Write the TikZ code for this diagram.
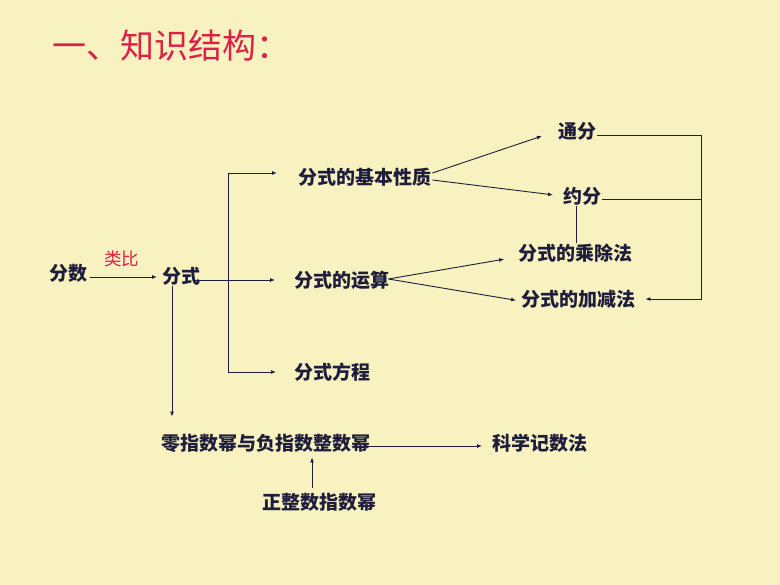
\documentclass[tikz,border=0pt]{standalone}
\usepackage{fontspec}
\newfontfamily\cjk{Noto Sans CJK SC}
\usetikzlibrary{arrows.meta,calc}
\definecolor{bg}{RGB}{248,241,192}
\definecolor{ink}{RGB}{30,30,60}
\definecolor{tred}{RGB}{222,32,72}
\begin{document}
\begin{tikzpicture}[x=1pt,y=-1pt,
  lbl/.style={font=\cjk\bfseries\fontsize{19}{19}\selectfont, text=ink, inner sep=1pt, anchor=west},
  arr/.style={draw=ink, line width=0.9pt, -{Latex[length=5pt,width=4pt]}},
  ln/.style={draw=ink, line width=0.9pt}]
\fill[bg] (0,0) rectangle (780,585);
\useasboundingbox (0,0) rectangle (780,585);
\node[font=\cjk\fontsize{34}{34}\selectfont, text=tred, anchor=west, inner sep=0pt] (title) at (52,46) {一、知识结构：};
\node[lbl] (fenshu) at (48,273) {分数};
\node[font=\cjk\fontsize{17.5}{17.5}\selectfont, text=tred, anchor=west, inner sep=0pt] (leibi) at (104,259) {类比};
\node[lbl] (fenshi) at (161,276) {分式};
\node[lbl] (jiben) at (297,177) {分式的基本性质};
\node[lbl] (yunsuan) at (293,280) {分式的运算};
\node[lbl] (fangcheng) at (293,372) {分式方程};
\node[lbl] (tongfen) at (557,131) {通分};
\node[lbl] (yuefen) at (562,196) {约分};
\node[lbl] (chengchu) at (517,253) {分式的乘除法};
\node[lbl] (jiajian) at (520,299) {分式的加减法};
\node[lbl] (lingzhi) at (160,443) {零指数幂与负指数整数幂};
\node[lbl] (kexue) at (491,443) {科学记数法};
\node[lbl] (zheng) at (261,502) {正整数指数幂};
\coordinate (tx) at (228,0);
\coordinate (rx) at (701,0);
% left part
\draw[arr, shorten <=2pt, shorten >=4pt] ([yshift=-4pt]fenshu.east) -- ([yshift=-4pt]fenshu.east -| fenshi.west);
\draw[arr, shorten >=18pt] ([xshift=-6pt]fenshi.east |- yunsuan.west) -- (yunsuan.west);
\draw[ln] ([yshift=4pt]tx |- jiben.west) -- (tx |- fangcheng.west);
\draw[arr, shorten >=20pt] ([yshift=4pt]tx |- jiben.west) -- ([yshift=4pt]jiben.west);
\draw[arr, shorten >=17pt] (tx |- fangcheng.west) -- (fangcheng.west);
\draw[arr, shorten >=16pt] ([xshift=11pt]fenshi.south west) -- ([xshift=11pt]fenshi.south west |- lingzhi.north);
% lower part
\draw[arr, shorten >=9pt] ([xshift=-3pt,yshift=-3pt]lingzhi.east) -- ([yshift=-3pt]kexue.west);
\draw[arr, shorten <=4pt, shorten >=4pt] ([xshift=51pt]zheng.north west) -- ([xshift=51pt]zheng.north west |- lingzhi.south);
% right part
\draw[arr, shorten >=16pt] ([yshift=4pt]jiben.east) -- (tongfen.west);
\draw[arr, shorten >=9pt] ([yshift=-3pt]jiben.east) -- (yuefen.west);
\draw[arr, shorten >=13pt] ([xshift=-2pt,yshift=1pt]yunsuan.east) -- ([yshift=-4pt]chengchu.west);
\draw[arr, shorten >=4pt] ([xshift=-2pt,yshift=1pt]yunsuan.east) -- ([yshift=-2pt]jiajian.west);
\draw[arr, shorten >=9pt] ([yshift=-4pt]tongfen.east) -- ([yshift=-4pt]tongfen.east -| rx) |- (jiajian.east);
\draw[ln] ([yshift=-3pt]yuefen.east) -- ([yshift=-3pt]yuefen.east -| rx);
\draw[ln] ([xshift=14pt]yuefen.south west) -- ([xshift=14pt]yuefen.south west |- chengchu.north);
\end{tikzpicture}
\end{document}
